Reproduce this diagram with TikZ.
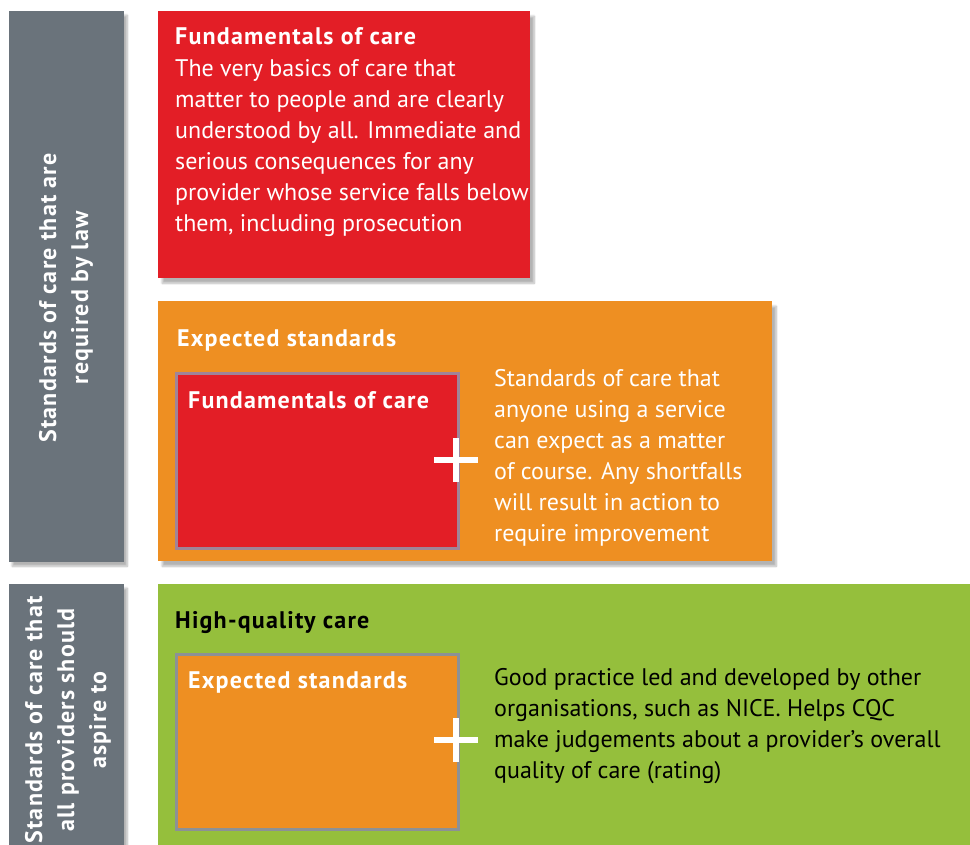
\documentclass[tikz,border=0pt]{standalone}
\usepackage{fontspec}
\setmainfont{PT Sans}
\usetikzlibrary{positioning,shadows.blur}
\definecolor{cqcgrey}{HTML}{6A737B}
\definecolor{cqcred}{HTML}{E31E26}
\definecolor{cqcorange}{HTML}{EE8F22}
\definecolor{cqcgreen}{HTML}{95BF3C}
\definecolor{rimred}{HTML}{A08498}
\definecolor{rimorange}{HTML}{8C9196}

\begin{document}
\begin{tikzpicture}[x=1pt,y=-1pt,inner sep=0pt,
                    font=\fontsize{24pt}{31pt}\selectfont]
\tikzstyle{bar}=[fill=cqcgrey,anchor=north west,blur shadow={shadow xshift=3pt,shadow yshift=-4pt,shadow blur steps=10,shadow opacity=30}]
\tikzstyle{card}=[anchor=north west,blur shadow={shadow xshift=4pt,shadow yshift=-5pt,shadow blur steps=10,shadow opacity=30}]
\tikzstyle{inner card}=[anchor=north west,line width=2.5pt]
\tikzstyle{heading}=[anchor=base west,font=\fontsize{24pt}{31pt}\selectfont\bfseries\addfontfeatures{LetterSpace=5}]
\tikzstyle{body}=[anchor=north west,align=left,text=white]
\tikzstyle{side}=[rotate=90,align=center,text=white,font=\fontsize{24pt}{32pt}\selectfont\bfseries\addfontfeatures{LetterSpace=5}]

\useasboundingbox (0,0) rectangle (970,845);

        % side bars
        \node[bar,minimum width=115pt,minimum height=551pt]          (law)      at (9,11)   {};
        \node[bar,minimum width=115pt,minimum height=280pt]          (aspire)   at (9,584)  {};

        % coloured cards
        \node[card,fill=cqcred,minimum width=372pt,minimum height=267pt]     (fund)     at (158,11)  {};
        \node[card,fill=cqcorange,minimum width=614pt,minimum height=260pt]  (expect)   at (158,301) {};
        \node[card,fill=cqcgreen,minimum width=830pt,minimum height=280pt]   (high)     at (158,584) {};

        \node[inner card,fill=cqcred,draw=rimred,minimum width=282pt,minimum height=175pt]       (fundin)   at (175,372) {};
        \node[inner card,fill=cqcorange,draw=rimorange,minimum width=282pt,minimum height=175pt] (expectin) at (175,653) {};

        % headings
        \node[heading,text=white]   (fundhd)     at (175,45)  {Fundamentals of care};
        \node[heading,text=white]   (expecthd)   at (177,347) {Expected standards};
        \node[heading,text=white]   (fundinhd)   at (188,408) {Fundamentals of care};
        \node[heading,text=black]   (highhd)     at (175,628) {High-quality care};
        \node[heading,text=white]   (expectinhd) at (188,688) {Expected standards};

        % descriptions
        \node[body]                 (funddesc)   at (175,59)  {The very basics of care that\\matter to people and are clearly\\understood by all. Immediate and\\serious consequences for any\\provider whose service falls below\\them, including prosecution};
        \node[body]                 (expectdesc) at (494,369) {Standards of care that\\anyone using a service\\can expect as a matter\\of course. Any shortfalls\\will result in action to\\require improvement};
        \node[body,text=black]      (highdesc)   at (494,668) {Good practice led and developed by other\\organisations, such as NICE. Helps CQC\\make judgements about a provider's overall\\quality of care (rating)};

        % side labels
        \node[side]                 (lawtxt)     at (66,298)  {Standards of care that are\\required by law};
        \node[side]                 (aspiretxt)  at (68,720)  {Standards of care that\\all providers should\\aspire to};

        % plus signs
        \coordinate (plusA) at (456,460);
        \coordinate (plusB) at (456,740);
        \foreach \p in {plusA,plusB}
          \draw[white,line width=5.5pt] ([xshift=-22pt]\p) -- ([xshift=22pt]\p)
                                        ([yshift=-22pt]\p) -- ([yshift=22pt]\p);
\end{tikzpicture}
\end{document}
